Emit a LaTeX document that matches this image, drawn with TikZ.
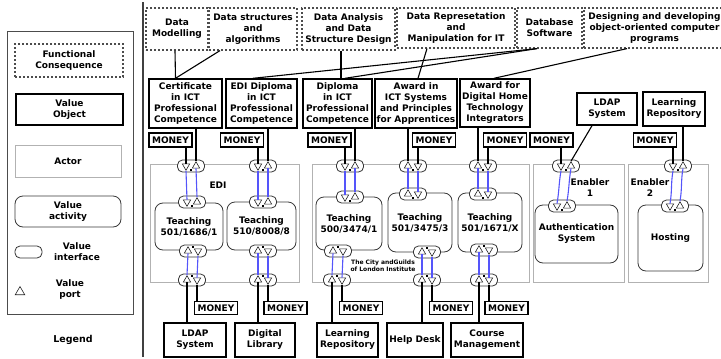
\documentclass[tikz,border=0pt]{standalone}
\usepackage{fontspec}
\setmainfont{DejaVu Sans}
\usetikzlibrary{shapes.geometric,calc}
\definecolor{flowblue}{RGB}{85,85,250}
\newcommand\lbl{\fontsize{9}{11}\selectfont\bfseries}
% interface with two ports: name, x, y, left port style, right port style, dot offset
\newcommand\MkIface[6]{%
  \node[ifbox] (#1) at (#2,#3) {};
  \node[#4] (#1L) at ([xshift=-5pt]#1.center) {};
  \node[#5] (#1R) at ([xshift=5pt]#1.center) {};
  \fill[black] ([xshift=-1pt,yshift=#6]#1.center) rectangle ++(2pt,-2pt);
}
\tikzset{
  base/.style={font=\lbl, align=center, inner sep=0pt},
  fcbox/.style={base, draw=gray!60!black, line width=1.2pt, dash pattern=on 2pt off 2pt},
  vobox/.style={base, draw=black, line width=1.4pt},
  actorbox/.style={draw=gray!60, line width=0.8pt},
  actbox/.style={base, draw=gray!45!black, line width=0.8pt, rounded corners=8pt, fill=white},
  ifbox/.style={draw=gray!40!black, line width=0.8pt, rounded corners=5pt, minimum width=27pt, minimum height=12pt, inner sep=0pt, fill=white},
  pup/.style={regular polygon, regular polygon sides=3, draw=gray!30!black, line width=0.6pt, inner sep=0pt, minimum size=8.5pt},
  pdn/.style={pup, shape border rotate=180},
  link/.style={draw=black, line width=1.1pt},
  flow/.style={draw=flowblue, line width=1.1pt},
  moneybox/.style={vobox, minimum width=43pt, minimum height=14pt}
}
\begin{document}
\begin{tikzpicture}[x=1pt,y=-1pt]
\useasboundingbox (0,0) rectangle (721,359);

% ---------- legend ----------
\draw[gray!60!black, line width=0.8pt] (7,31) rectangle (133,314);
\node[fcbox, minimum width=108pt, minimum height=33pt] (lgfc) at (69,60.5) {Functional\\Consequence};
\node[vobox, minimum width=107pt, minimum height=31pt] (lgvo) at (69.5,109.5) {Value\\Object};
\node[actorbox, base, minimum width=106pt, minimum height=32pt] (lgac) at (68,161) {Actor};
\node[actbox, minimum width=106pt, minimum height=31pt] (lgva) at (68,211.5) {Value\\activity};
\node[ifbox] (lgif) at (28.5,252) {};
\node[base] (lgift) at (77,252) {Value\\interface};
\node[pup, minimum size=11pt] (lgpt) at (20,292) {};
\node[base] (lgptt) at (70,290) {Value\\port};
\node[base, font=\fontsize{9.5}{11}\selectfont\bfseries] (lgtitle) at (73,340) {Legend};

\draw[gray!50!black, line width=1.5pt] (143,2) -- (143,357);

% ---------- functional consequences ----------
\node[fcbox, minimum width=62pt, minimum height=42pt] (fc1) at (177,29) {Data\\Modelling};
\node[fcbox, minimum width=88pt, minimum height=42pt] (fc2) at (253,29) {Data structures\\and\\algorithms};
\node[fcbox, minimum width=93pt, minimum height=42pt] (fc3) at (348.5,29) {Data Analysis\\and Data\\Structure Design};
\node[fcbox, minimum width=118pt, minimum height=40pt] (fc4) at (456,28) {Data Represetation\\and\\Manipulation for IT};
\node[fcbox, minimum width=65pt, minimum height=40pt] (fc5) at (549.5,28) {Database\\Software};
\node[fcbox, minimum width=141pt, minimum height=40pt] (fc6) at (654.5,28) {Designing and developing\\object-oriented computer\\programs};

% ---------- value objects ----------
\node[vobox, minimum width=73pt, minimum height=49pt] (vo1) at (185.5,103.5) {Certificate\\in ICT\\Professional\\Competence};
\node[vobox, minimum width=71pt, minimum height=49pt] (vo2) at (261.5,103.5) {EDI Diploma\\in ICT\\Professional\\Competence};
\node[vobox, minimum width=69pt, minimum height=49pt] (vo3) at (337.5,103.5) {Diploma\\in ICT\\Professional\\Competence};
\node[vobox, minimum width=82pt, minimum height=49pt] (vo4) at (416,103.5) {Award in\\ICT Systems\\and Principles\\for Apprentices};
\node[vobox, minimum width=70pt, minimum height=48pt] (vo5) at (495,103) {Award for\\Digital Home\\Technology\\Integrators};
\node[vobox, minimum width=60pt, minimum height=32pt] (vo6) at (607,109) {LDAP\\System};
\node[vobox, minimum width=62pt, minimum height=34pt] (vo7) at (674,109) {Learning\\Repository};

\node[moneybox] (m1) at (170.5,140) {MONEY};
\node[moneybox] (m2) at (242,140) {MONEY};
\node[moneybox] (m3) at (329.5,140) {MONEY};
\node[moneybox] (m4) at (434,140) {MONEY};
\node[moneybox] (m5) at (505,140) {MONEY};
\node[moneybox] (m6) at (551.5,140) {MONEY};
\node[moneybox] (m7) at (655,140) {MONEY};

% functional consequences to value objects
\draw[link] ([xshift=-2pt]fc1.south) -- ([xshift=-10pt]vo1.north);
\draw[link] ([xshift=-33pt]fc2.south) -- ([xshift=-10pt]vo1.north);
\draw[link] ([xshift=-7.5pt]fc3.south) -- ([xshift=3.5pt]vo3.north);
\draw[link] ([xshift=-29pt]fc4.south) -- ([xshift=2pt]vo4.north);
\draw[link] ([xshift=-12.5pt]fc5.south) -- ([xshift=-8.5pt]vo2.north);
\draw[link] ([xshift=-12.5pt]fc5.south) -- ([xshift=7.5pt]vo3.north);
\draw[link] ([xshift=-27.5pt]fc6.south) -- ([xshift=-1pt]vo5.north);

% ---------- actors ----------
\node[actorbox, minimum width=149pt, minimum height=118pt] (edi) at (224.5,223) {};
\node[actorbox, minimum width=217pt, minimum height=118pt] (cg) at (420.5,223) {};
\node[actorbox, minimum width=91pt, minimum height=118pt] (en1) at (578.5,223) {};
\node[actorbox, minimum width=80pt, minimum height=118pt] (en2) at (668,223) {};
\node[base] (edit) at (218,185) {EDI};
\node[base, font=\fontsize{6}{7.5}\selectfont\bfseries] (cgt) at (383,266) {The City andGuilds\\of London Institute};
\node[base] (en1t) at (590,188) {Enabler\\1};
\node[base] (en2t) at (650,188) {Enabler\\2};

% ---------- value activities ----------
\node[actbox, minimum width=68pt, minimum height=47pt] (t1) at (189,226.5) {Teaching\\501/1686/1};
\node[actbox, minimum width=69pt, minimum height=48pt] (t2) at (261.5,226) {Teaching\\510/8008/8};
\node[actbox, minimum width=66pt, minimum height=53pt] (t3) at (349,223.5) {Teaching\\500/3474/1};
\node[actbox, minimum width=64pt, minimum height=59pt] (t4) at (420,222.5) {Teaching\\501/3475/3};
\node[actbox, minimum width=64pt, minimum height=59pt] (t5) at (490,222.5) {Teaching\\501/1671/X};
\node[actbox, minimum width=83pt, minimum height=58pt] (t6) at (576.5,234) {Authentication\\System};
\node[actbox, minimum width=65pt, minimum height=66pt] (t7) at (670.5,238) {Hosting};

% ---------- value interfaces ----------
\MkIface{ia1}{191}{166}{pdn}{pup}{-2.5pt}
\MkIface{ia2}{263}{166}{pdn}{pup}{-2.5pt}
\MkIface{ia3}{350}{166}{pdn}{pup}{-2.5pt}
\MkIface{ia4}{413}{166}{pup}{pdn}{-2.5pt}
\MkIface{ia5}{483}{166}{pup}{pdn}{-2.5pt}
\MkIface{ia6}{566}{166}{pdn}{pup}{-2.5pt}
\MkIface{ia7}{678}{166}{pdn}{pup}{-2.5pt}

\MkIface{it1}{192}{202}{pdn}{pup}{-2.5pt}
\MkIface{it2}{263}{202}{pdn}{pup}{-2.5pt}
\MkIface{it3}{350}{197}{pdn}{pup}{-2.5pt}
\MkIface{it4}{413}{194}{pup}{pdn}{-2.5pt}
\MkIface{it5}{483}{194}{pup}{pdn}{-2.5pt}
\MkIface{it6}{562}{206}{pdn}{pup}{-2.5pt}
\MkIface{it7}{675}{206}{pdn}{pup}{-2.5pt}

\MkIface{ib1}{193}{251}{pup}{pdn}{5pt}
\MkIface{ib2}{263}{251}{pup}{pdn}{5pt}
\MkIface{ib3}{338}{251}{pup}{pdn}{5pt}
\MkIface{ib4}{427}{252}{pup}{pdn}{5pt}
\MkIface{ib5}{484}{250}{pup}{pdn}{5pt}

\MkIface{ic1}{192}{280}{pup}{pdn}{5pt}
\MkIface{ic2}{263}{280}{pup}{pdn}{5pt}
\MkIface{ic3}{337}{280}{pup}{pdn}{5pt}
\MkIface{ic4}{427}{280}{pup}{pdn}{5pt}
\MkIface{ic5}{484}{280}{pup}{pdn}{5pt}

% ---------- bottom value objects ----------
\node[moneybox, minimum height=13pt] (n1) at (216,308) {MONEY};
\node[moneybox, minimum height=13pt] (n2) at (285.5,308) {MONEY};
\node[moneybox, minimum height=13pt] (n3) at (361,308) {MONEY};
\node[moneybox, minimum height=13pt] (n4) at (451,308) {MONEY};
\node[moneybox, minimum height=13pt] (n5) at (506.5,308) {MONEY};
\node[vobox, minimum width=62pt, minimum height=34pt] (bo1) at (195,340) {LDAP\\System};
\node[vobox, minimum width=60pt, minimum height=34pt] (bo2) at (265,340) {Digital\\Library};
\node[vobox, minimum width=61pt, minimum height=34pt] (bo3) at (347.5,340) {Learning\\Repository};
\node[vobox, minimum width=56pt, minimum height=34pt] (bo4) at (415,340) {Help Desk};
\node[vobox, minimum width=72pt, minimum height=34pt] (bo5) at (487,340) {Course\\Management};

% ---------- top connections ----------
\draw[link] (m1.south -| ia1L) -- (ia1L.north);
\draw[link] (vo1.south -| ia1R) -- (ia1R.north);
\draw[link] (m2.south -| ia2L) -- (ia2L.north);
\draw[link] (vo2.south -| ia2R) -- (ia2R.north);
\draw[link] (m3.south -| ia3L) -- (ia3L.north);
\draw[link] (vo3.south -| ia3R) -- (ia3R.north);
\draw[link] (vo4.south -| ia4L) -- (ia4L.north);
\draw[link] (m4.south -| ia4R) -- (ia4R.north);
\draw[link] (vo5.south -| ia5L) -- (ia5L.north);
\draw[link] (m5.south -| ia5R) -- (ia5R.north);
\draw[link] (m6.south -| ia6L) -- (ia6L.north);
\draw[link] ([xshift=-15pt]vo6.south) -- (ia6R.north);
\draw[link] (m7.south -| ia7L) -- (ia7L.north);
\draw[link] (vo7.south -| ia7R) -- (ia7R.north);

% ---------- value transfers inside actors ----------
\foreach \a/\b in {ia1/it1, ia2/it2, ia3/it3, ia4/it4, ia5/it5, ib1/ic1, ib2/ic2, ib3/ic3, ib4/ic4, ib5/ic5}{
  \draw[flow] (\a L.south) -- (\b L.north);
  \draw[flow] (\a R.south) -- (\b R.north);
}
\draw[flow] (ia6L.south) to[out=-100, in=80] (it6L.north);
\draw[flow] (ia6R.south) to[out=-100, in=80] (it6R.north);
\draw[flow] (ia7L.south) to[out=-100, in=80] (it7L.north);
\draw[flow] (ia7R.south) to[out=-100, in=80] (it7R.north);

% ---------- bottom connections ----------
\draw[link] (ic1L.south) -- (ic1L.south |- bo1.north);
\draw[link] (ic1R.south) -- (ic1R.south |- n1.north);
\draw[link] (ic2L.south) -- (ic2L.south |- bo2.north);
\draw[link] (ic2R.south) -- (ic2R.south |- n2.north);
\draw[link] (ic3L.south) -- (ic3L.south |- bo3.north);
\draw[link] (ic3R.south) -- (ic3R.south |- n3.north);
\draw[link] (ic4L.south) -- (ic4L.south |- bo4.north);
\draw[link] (ic4R.south) -- (ic4R.south |- n4.north);
\draw[link] (ic5L.south) -- (ic5L.south |- bo5.north);
\draw[link] (ic5R.south) -- (ic5R.south |- n5.north);
\end{tikzpicture}
\end{document}
